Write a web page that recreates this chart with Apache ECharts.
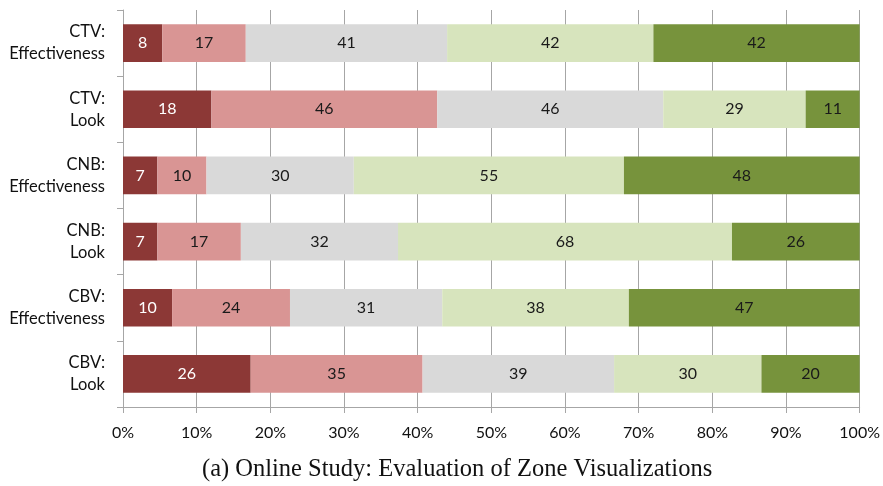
<!DOCTYPE html>
<html><head><meta charset="utf-8">
<script src="https://cdn.jsdelivr.net/npm/echarts@6/dist/echarts.min.js"></script>
<style>html,body{margin:0;padding:0;background:#fff}#c{width:883px;height:486px}</style>
</head><body><div id="c"></div>
<script>
const categories = ["CTV:\nEffectiveness","CTV:\nLook","CNB:\nEffectiveness","CNB:\nLook","CBV:\nEffectiveness","CBV:\nLook"];
const s1 = [8,18,7,7,10,26];
const s2 = [17,46,10,17,24,35];
const s3 = [41,46,30,32,31,39];
const s4 = [42,29,55,68,38,30];
const s5 = [42,11,48,26,47,20];
const xTicks = [0,10,20,30,40,50,60,70,80,90,100];
const seriesData = [s1,s2,s3,s4,s5];
const colors = ["#8C3836","#D99594","#D9D9D9","#D7E4BD","#77933C"];
const labelColors = ["#ffffff","#1a1a1a","#1a1a1a","#1a1a1a","#1a1a1a"];
const totals = categories.map((c,i)=>seriesData.reduce((a,s)=>a+s[i],0));
const font = "Lato";
const chart = echarts.init(document.getElementById('c'));
chart.setOption({
  animation:false,
  grid:{left:123,right:15,top:10,bottom:79,containLabel:false},
  title:{text:"(a) Online Study: Evaluation of Zone Visualizations",left:197,top:452,
    textStyle:{fontFamily:"Liberation Serif",fontWeight:'normal',fontSize:24.5,color:'#111'}},
  xAxis:{type:'value',min:xTicks[0],max:xTicks[xTicks.length-1],interval:10,
    axisLine:{show:true,lineStyle:{color:'#A6A6A6',width:1}},
    axisTick:{show:true,length:6,lineStyle:{color:'#A6A6A6'}},
    splitLine:{show:true,lineStyle:{color:'#A6A6A6',width:1}},
    axisLabel:{formatter:v=>v+'%',fontFamily:font,fontSize:16,color:'#111',margin:18}},
  yAxis:{type:'category',data:categories,inverse:true,
    axisLine:{show:true,lineStyle:{color:'#A6A6A6'}},
    axisTick:{show:true,length:6,lineStyle:{color:'#A6A6A6'}},
    axisLabel:{fontFamily:font,fontSize:16.5,color:'#111',lineHeight:22,align:'right',margin:18}},
  series:seriesData.map((s,k)=>({
    type:'bar',stack:'all',barWidth:'57%',
    itemStyle:{color:colors[k]},
    label:{show:true,position:'inside',fontFamily:font,fontSize:16,color:labelColors[k],
      formatter:p=>String(s[p.dataIndex])},
    data:s.map((v,i)=>v/totals[i]*100)
  }))
});
</script></body></html>
